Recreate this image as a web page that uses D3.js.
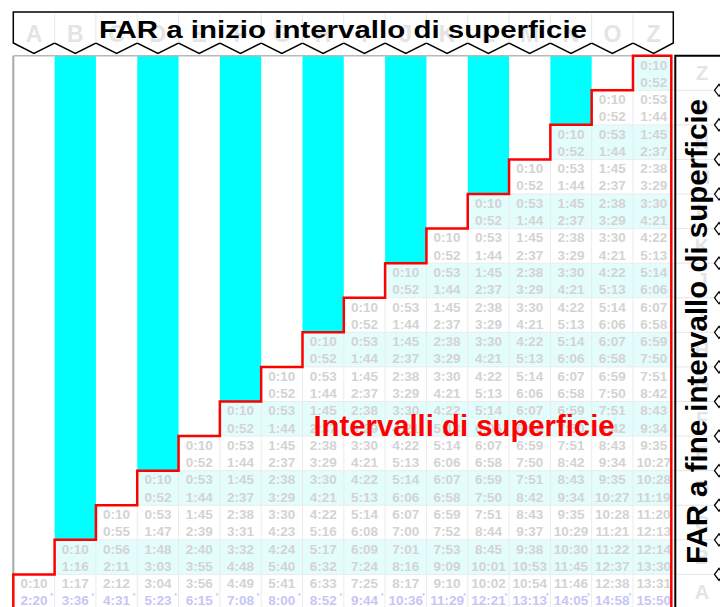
<!DOCTYPE html>
<html><head><meta charset="utf-8">
<script src="https://cdn.jsdelivr.net/npm/d3@7"></script>
<style>html,body{margin:0;padding:0;background:#fff;overflow:hidden}svg{display:block}</style>
</head><body>
<script>
// ---- data ----
const groups = ["A","B","C","D","E","F","G","H","I","J","K","L","M","N","O","Z"];
const rowAStart = ["0:10","1:17","2:12","3:04","3:56","4:49","5:41","6:33","7:25","8:17","9:10","10:02","10:54","11:46","12:38","13:31"];
const rowAEnd   = ["2:20","3:36","4:31","5:23","6:15","7:08","8:00","8:52","9:44","10:36","11:29","12:21","13:13","14:05","14:58","15:50"];
const rowBStart = ["0:10","0:56","1:48","2:40","3:32","4:24","5:17","6:09","7:01","7:53","8:45","9:38","10:30","11:22","12:14"];
const rowBEnd   = ["1:16","2:11","3:03","3:55","4:48","5:40","6:32","7:24","8:16","9:09","10:01","10:53","11:45","12:37","13:30"];
const rowCStart = ["0:10","0:53","1:45","2:38","3:30","4:22","5:14","6:07","6:59","7:51","8:43","9:35","10:28","11:20"];
const rowCEnd   = ["0:55","1:47","2:39","3:31","4:23","5:16","6:08","7:00","7:52","8:44","9:37","10:29","11:21","12:13"];
const upperStart = ["0:10","0:53","1:45","2:38","3:30","4:22","5:14","6:07","6:59","7:51","8:43","9:35","10:28"];
const upperEnd   = ["0:52","1:44","2:37","3:29","4:21","5:13","6:06","6:58","7:50","8:42","9:34","10:27","11:19"];
const titleTop = "FAR a inizio intervallo di superficie";
const titleRight = "FAR a fine intervallo di superficie";
const labelMid = "Intervalli di superficie";

const W = 720, H = 607;
const svg = d3.select("body").append("svg").attr("width", W).attr("height", H)
  .style("font-family", "Arial, 'Liberation Sans', sans-serif");

const x = d3.scaleBand().domain(groups).range([13.3, 674.3]);
const y = d3.scaleBand().domain(groups.slice().reverse()).range([55.7, 609]);
const cw = x.bandwidth(), rh = y.bandwidth();
const right = x.range()[1];
const bottom = y.range()[1];

function rowValues(ri) {
  if (ri === 0) return [rowAStart, rowAEnd];
  if (ri === 1) return [rowBStart, rowBEnd];
  if (ri === 2) return [rowCStart, rowCEnd];
  return [upperStart, upperEnd];
}
const cells = [];
groups.forEach((rg, ri) => {
  const [s, e] = rowValues(ri);
  groups.forEach((cg, ci) => {
    if (ci >= ri) cells.push({row: rg, col: cg, ri, ci, start: s[ci - ri], end: e[ci - ri]});
  });
});

// row backgrounds
svg.append("g").selectAll("rect").data(groups).join("rect")
  .attr("x", d => x(d)).attr("y", d => y(d))
  .attr("width", d => right - x(d)).attr("height", rh)
  .attr("fill", (d, i) => i % 2 ? "#e3fdfd" : "#ffffff");

// cyan bars
svg.append("g").selectAll("rect").data(groups.filter((g, i) => i % 2 === 1 && i < 15)).join("rect")
  .attr("x", d => x(d)).attr("y", y.range()[0])
  .attr("width", cw).attr("height", d => y(d) - y.range()[0])
  .attr("fill", "#00ffff");

// faint cell grid
const grid = svg.append("g").attr("stroke", "#ebebeb").attr("stroke-width", 1);
cells.forEach(c => {
  grid.append("line").attr("x1", x(c.col)).attr("x2", x(c.col)).attr("y1", y(c.row)).attr("y2", y(c.row) + rh);
  grid.append("line").attr("x1", x(c.col)).attr("x2", x(c.col) + cw).attr("y1", y(c.row)).attr("y2", y(c.row));
});

// cell texts
const ct = svg.append("g").attr("font-weight", "bold").attr("font-size", 13.5).attr("text-anchor", "middle");
ct.selectAll("text.s").data(cells).join("text").attr("class", "s")
  .attr("x", d => x(d.col) + cw / 2).attr("y", d => y(d.row) + 13.8)
  .attr("fill", "#d3d3d3").text(d => d.start);
const et = ct.selectAll("text.e").data(cells).join("text").attr("class", "e")
  .attr("x", d => x(d.col) + cw / 2).attr("y", d => y(d.row) + 31)
  .attr("fill", d => d.ri === 0 ? "#c6c6f6" : "#d3d3d3");
et.text(d => d.end);
ct.selectAll("text.m").data(cells.filter(d => d.ri === 0)).join("text").attr("class", "m")
  .attr("x", d => x(d.col) + cw - 3).attr("y", d => y(d.row) + 24)
  .attr("font-size", 7).attr("fill", "#c6c6f6").text("*");

// grid border lines (gray)
svg.append("line").attr("x1", x.range()[0]).attr("x2", x.range()[0]).attr("y1", y.range()[0]).attr("y2", y("A"))
  .attr("stroke", "#a8a8a8").attr("stroke-width", 2);
svg.append("line").attr("x1", x.range()[0]).attr("x2", x("Z")).attr("y1", y.range()[0]).attr("y2", y.range()[0])
  .attr("stroke", "#b8b8b8").attr("stroke-width", 1.5);

// red staircase
let p = d3.path();
p.moveTo(x("A"), bottom + 2);
p.lineTo(x("A"), y("A"));
for (let i = 1; i < groups.length; i++) {
  p.lineTo(x(groups[i]), y(groups[i - 1]));
  p.lineTo(x(groups[i]), y(groups[i]));
}
p.lineTo(right - 3, y("Z"));
p.lineTo(right - 3, bottom + 2);
svg.append("path").attr("d", p.toString()).attr("fill", "none").attr("stroke", "#ff0000").attr("stroke-width", 2.5);

// middle label
svg.append("text").attr("x", 464).attr("y", 436).attr("text-anchor", "middle")
  .attr("font-weight", "bold").attr("font-size", 29.3).attr("fill", "#ff0000").text(labelMid);

// top header box with zigzag
const hTop = 12, hBase = 43, hTip = 53.5;
let hp = d3.path();
hp.moveTo(x.range()[0], hBase);
hp.lineTo(x.range()[0], hTop);
hp.lineTo(right - 1, hTop);
hp.lineTo(right - 1, hBase);
groups.slice().reverse().forEach(g => {
  hp.lineTo(x(g) + cw / 2, hTip);
  hp.lineTo(x(g), hBase);
});
hp.closePath();
svg.append("path").attr("d", hp.toString()).attr("fill", "#fff").attr("stroke", "#000").attr("stroke-width", 1.5);
svg.append("g").selectAll("line").data(groups.slice(1)).join("line")
  .attr("x1", d => x(d)).attr("x2", d => x(d)).attr("y1", hTop + 2).attr("y2", hBase)
  .attr("stroke", "#e6e6e6").attr("stroke-width", 1);
svg.append("g").selectAll("text").data(groups).join("text")
  .attr("x", d => x(d) + cw / 2).attr("y", 42).attr("text-anchor", "middle")
  .attr("font-size", 23).attr("font-weight", "bold").attr("fill", "#e4e4e4").text(d => d);
svg.append("text").attr("x", 99).attr("y", 37.5).attr("font-size", 23.5).attr("font-weight", "bold")
  .attr("textLength", 488).attr("lengthAdjust", "spacingAndGlyphs").attr("fill", "#000").text(titleTop);

// right header panel
const rp = svg.append("g");
rp.append("rect").attr("x", right + 0.5).attr("y", y.range()[0] - 0.5).attr("width", 60).attr("height", 560).attr("fill", "#fff");
rp.selectAll("line.sep").data(groups.slice(0, 15)).join("line").attr("class", "sep")
  .attr("x1", right + 1).attr("x2", 713).attr("y1", d => y(d)).attr("y2", d => y(d))
  .attr("stroke", "#e6e6e6").attr("stroke-width", 1);
rp.selectAll("text.l").data(groups).join("text").attr("class", "l")
  .attr("x", 702).attr("y", d => y(d) + rh / 2 + 7).attr("text-anchor", "middle")
  .attr("font-size", 20).attr("font-weight", "bold").attr("fill", "#e4e4e4").text(d => d);
rp.selectAll("path.dia").data(groups.slice(0, 15)).join("path").attr("class", "dia")
  .attr("d", d => { const yy = y(d); return `M714.5,${yy} L719,${yy - 6} L723.5,${yy} L719,${yy + 6} Z`; })
  .attr("fill", "#fff").attr("stroke", "#000").attr("stroke-width", 1.3);
rp.append("path").attr("d", `M${right + 1},${bottom + 2} V${y.range()[0]} H${W + 2}`)
  .attr("fill", "none").attr("stroke", "#000").attr("stroke-width", 2);
rp.append("text").attr("transform", "translate(707,331.5) rotate(-90)").attr("text-anchor", "middle")
  .attr("font-size", 29.3).attr("font-weight", "bold").attr("fill", "#000")
  .attr("textLength", 465).attr("lengthAdjust", "spacingAndGlyphs").text(titleRight);
</script>
</body></html>
